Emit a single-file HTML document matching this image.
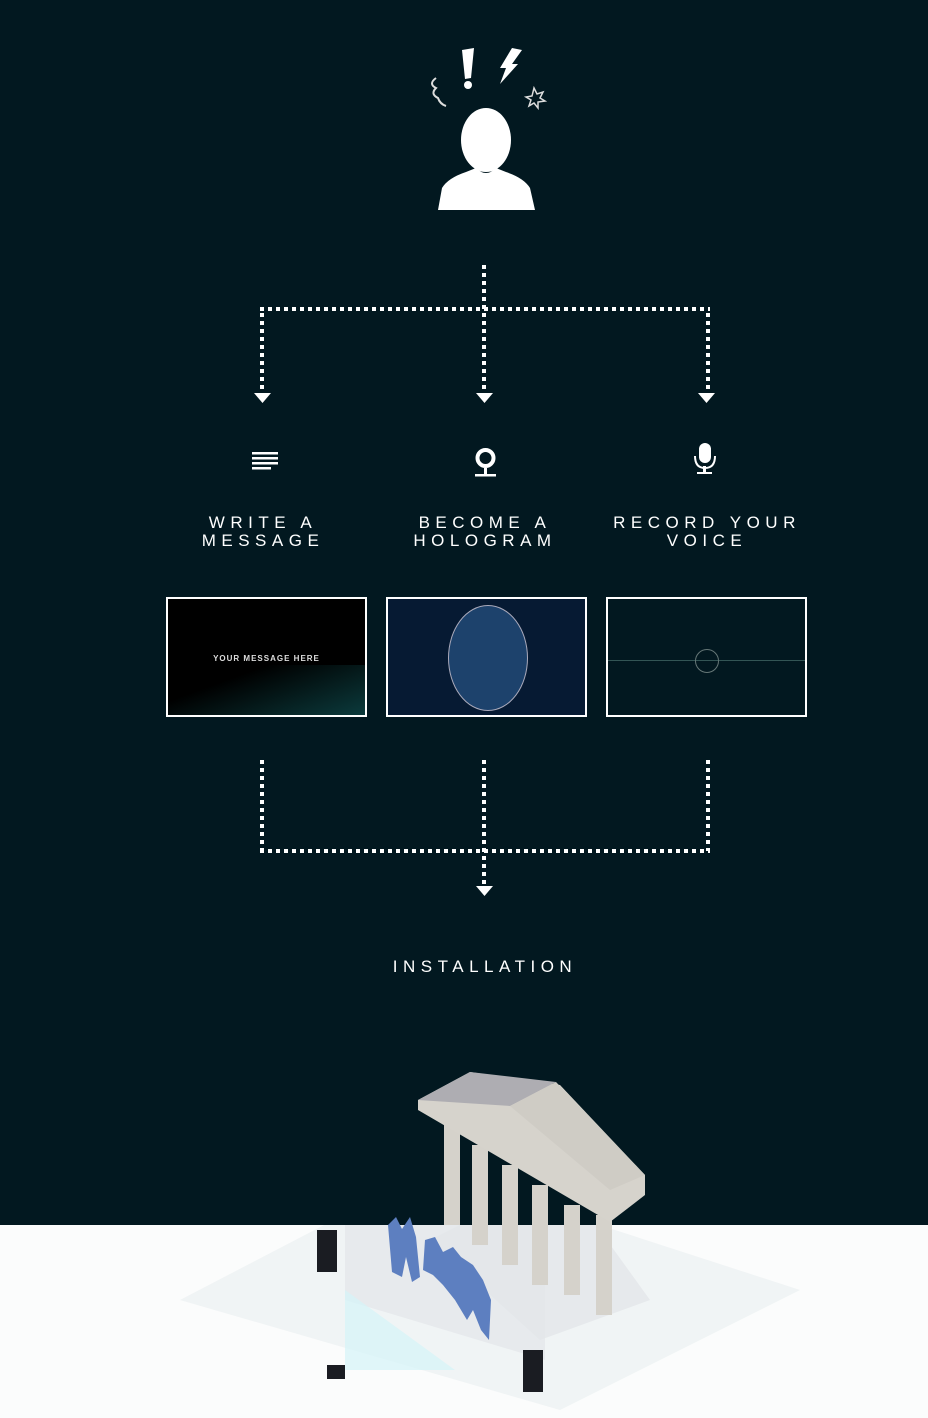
<!DOCTYPE html>
<html><head><meta charset="utf-8"><style>
html,body{margin:0;padding:0}
body{width:928px;height:1418px;background:#021820;position:relative;overflow:hidden;font-family:"Liberation Sans",sans-serif}
.lbl{position:absolute;color:#fff;font-size:17px;letter-spacing:5.5px;text-align:center;line-height:18px;width:260px}
.fr{position:absolute;border:2px solid #fff;box-sizing:border-box;width:201px;height:120px;overflow:hidden}
</style></head><body>
<div style="position:absolute;left:0;top:1225px;width:928px;height:193px;background:#fbfcfc"></div>
<svg width="928" height="1418" style="position:absolute;left:0;top:0">
<defs><clipPath id="g"><rect x="0" y="1225" width="928" height="193"/></clipPath></defs>
<g fill="#fff">
<ellipse cx="486" cy="140" rx="25" ry="32"/>
<path d="M438 210 L442 188 Q448 178 466 172 L476 168 Q486 178 496 168 L506 172 Q524 178 530 188 L535 210 Z"/>
<path d="M462 50 L474 48 L471 78 L465 79 Z"/><circle cx="468" cy="85" r="4"/>
<path d="M512 48 L522 50 L512 64 L518 64 L500 84 L506 68 L500 68 Z"/>
</g>
<path d="M436 78 q-8 6 0 10 q-6 6 2 10 q2 6 8 8" stroke="#ddd" stroke-width="2" fill="none"/>
<path d="M534 88 l3 6 6 -2 -3 6 5 3 -7 1 0 6 -4 -5 -5 3 2 -6 -5 -3 6 -1z" stroke="#ddd" stroke-width="1.5" fill="none"/>
<g stroke="#fff" stroke-width="4" stroke-dasharray="4 4" fill="none">
<path d="M484 265 V392"/>
<path d="M260 309 H710"/>
<path d="M262 313 V392"/><path d="M708 313 V392"/>
<path d="M262 760 V851"/><path d="M484 760 V886"/><path d="M708 760 V851"/>
<path d="M260 851 H710"/>
</g>
<g fill="#fff">
<path d="M254 393 h17 l-8.5 10z"/><path d="M476 393 h17 l-8.5 10z"/><path d="M698 393 h17 l-8.5 10z"/>
<path d="M476 886 h17 l-8.5 10z"/>
<rect x="252" y="452" width="26" height="2.5"/><rect x="252" y="457" width="26" height="2.5"/><rect x="252" y="462" width="26" height="2.5"/><rect x="252" y="467" width="19" height="2.5"/>
<rect x="475" y="474" width="21" height="2.5"/><rect x="484" y="468" width="3" height="7"/>
<rect x="699" y="443" width="12" height="20" rx="6"/><rect x="703" y="466" width="3" height="7"/><rect x="697" y="472" width="15" height="2"/>
</g>
<circle cx="485.5" cy="458" r="8" stroke="#fff" stroke-width="4" fill="none"/>
<path d="M695 456 q0 12 10 12 q10 0 10 -12" stroke="#fff" stroke-width="2" fill="none"/>
<g clip-path="url(#g)">
<polygon points="180,1300 430,1170 800,1290 560,1410" fill="#eef1f3" opacity=".8"/>
<polygon points="430,1240 560,1175 650,1300 540,1340" fill="#e6e9ec"/>
<polygon points="345,1225 545,1225 545,1360 345,1300" fill="#e3e6ea" opacity=".7"/>
<polygon points="345,1290 455,1370 345,1370" fill="#d4f3f8" opacity=".7"/>
</g>
<g fill="#d5d2cb">
<rect x="444" y="1125" width="16" height="100"/><rect x="472" y="1145" width="16" height="100"/><rect x="502" y="1165" width="16" height="100"/><rect x="532" y="1185" width="16" height="100"/><rect x="564" y="1205" width="16" height="90"/><rect x="596" y="1215" width="16" height="100"/>
</g>
<polygon points="418,1100 470,1072 560,1085 645,1175 645,1195 610,1222 418,1110" fill="#d6d3cc"/>
<polygon points="418,1100 470,1072 556,1082 510,1106" fill="#aeadb2"/>
<polygon points="510,1106 556,1082 645,1175 610,1190" fill="#cfccc5"/>
<g fill="#5d7fc0">
<path d="M388 1225 l8 -8 6 12 8 -12 6 20 4 40 -8 5 -6 -25 -4 20 -10 -5z"/>
<path d="M425 1240 l10 -3 8 15 10 -5 8 10 12 8 10 15 8 20 -2 40 -8 -10 -8 -20 -6 10 -12 -20 -12 -15 -10 -10 -10 -5z"/>
</g>
<g fill="#1a1c22"><rect x="317" y="1230" width="20" height="42"/><rect x="523" y="1350" width="20" height="42"/><rect x="327" y="1365" width="18" height="14"/></g>
</svg>
<div class="lbl" style="left:133px;top:514px">WRITE A<br>MESSAGE</div>
<div class="lbl" style="left:355px;top:514px">BECOME A<br>HOLOGRAM</div>
<div class="lbl" style="left:577px;top:514px">RECORD YOUR<br>VOICE</div>
<div class="lbl" style="left:300px;top:958px;width:370px">INSTALLATION</div>
<div class="fr" style="left:166px;top:597px;background:#000">
<div style="position:absolute;left:0;right:0;top:55px;color:#ddd;font-size:8px;font-weight:bold;letter-spacing:1px;text-align:center">YOUR MESSAGE HERE</div>
<div style="position:absolute;left:0;bottom:0;width:100%;height:50px;background:linear-gradient(160deg,#000 30%,#0b3a3c)"></div></div>
<div class="fr" style="left:386px;top:597px;background:#061a33">
<div style="position:absolute;left:60px;top:6px;width:78px;height:104px;border:1px solid #aab;border-radius:50%;background:#1d426c"></div></div>
<div class="fr" style="left:606px;top:597px;background:#021820">
<div style="position:absolute;left:0;right:0;top:61px;height:1px;background:#355"></div>
<div style="position:absolute;left:87px;top:50px;width:22px;height:22px;border:1px solid #677;border-radius:50%"></div></div>
</body></html>
